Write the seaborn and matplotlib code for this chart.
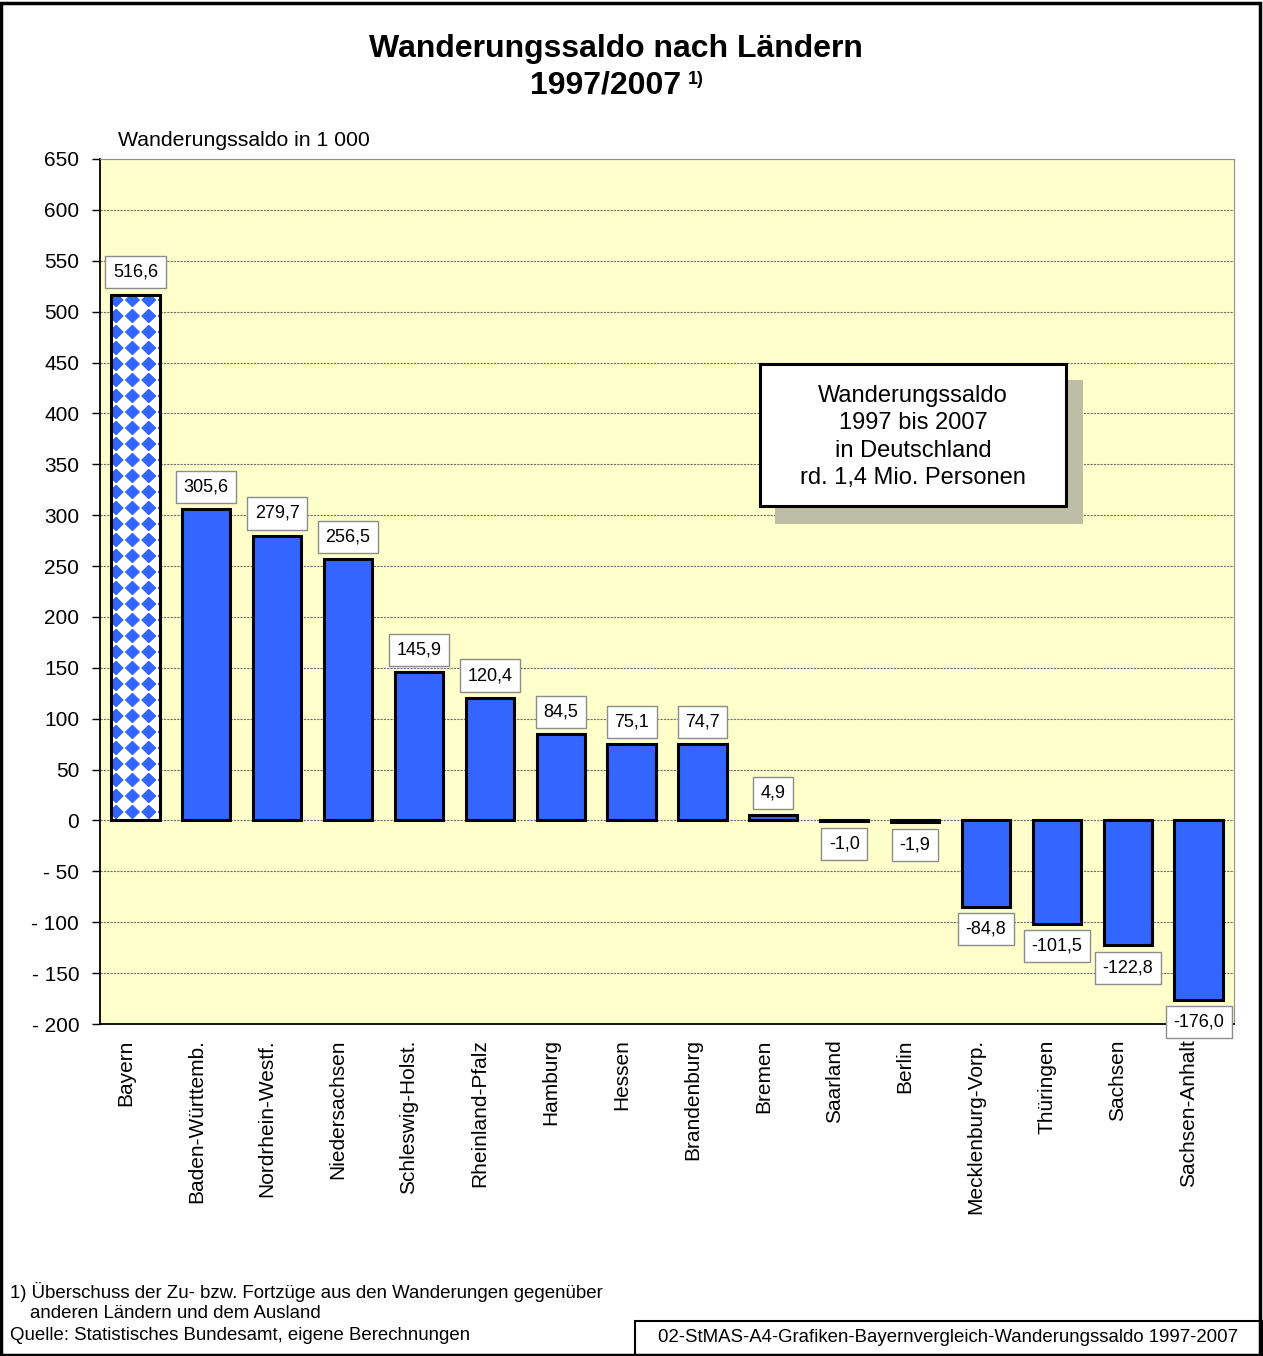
import matplotlib
matplotlib.use("Agg")
import matplotlib.pyplot as plt
import matplotlib.transforms as mtransforms
import numpy as np
import pandas as pd
import seaborn as sns
from matplotlib.patches import Rectangle

# Daten (Wanderungssaldo 1997/2007 in 1 000)
laender = ["Bayern", "Baden-Württemb.", "Nordrhein-Westf.", "Niedersachsen",
           "Schleswig-Holst.", "Rheinland-Pfalz", "Hamburg", "Hessen",
           "Brandenburg", "Bremen", "Saarland", "Berlin", "Mecklenburg-Vorp.",
           "Thüringen", "Sachsen", "Sachsen-Anhalt"]
saldo = [516.6, 305.6, 279.7, 256.5, 145.9, 120.4, 84.5, 75.1, 74.7, 4.9,
         -1.0, -1.9, -84.8, -101.5, -122.8, -176.0]
y_ticks = [-200, -150, -100, -50, 0, 50, 100, 150, 200, 250, 300, 350, 400,
           450, 500, 550, 600, 650]
y_labels = ["- 200", "- 150", "- 100", "- 50", "0", "50", "100", "150", "200",
            "250", "300", "350", "400", "450", "500", "550", "600", "650"]

df = pd.DataFrame({"Land": laender, "Saldo": saldo})

sns.set_style("white")
plt.rcParams["font.family"] = ["Liberation Sans", "DejaVu Sans"]
plt.rcParams["text.color"] = "black"
plt.rcParams["xtick.color"] = "black"
plt.rcParams["ytick.color"] = "black"
plt.rcParams["xtick.labelcolor"] = "black"
plt.rcParams["ytick.labelcolor"] = "black"

blau = "#3366FF"

fig = plt.figure(figsize=(12.63, 13.56), dpi=100)
ax = fig.add_axes([100 / 1263, 1 - 1024 / 1356, 1134 / 1263, 865 / 1356])
ax.set_facecolor("#FFFFCC")

sns.barplot(data=df, x="Land", y="Saldo", color=blau, saturation=1,
            width=0.68, edgecolor="black", linewidth=2.2, ax=ax, zorder=2)

ax.set_xlim(-0.5, len(laender) - 0.5)
ax.set_ylim(-200, 650)
ax.set_yticks(y_ticks)
ax.set_yticklabels(y_labels, fontsize=15)
ax.set_xticks(range(len(laender)))
ax.set_xticklabels(laender, rotation=90, fontsize=15, va="top")
ax.tick_params(axis="x", length=0, pad=11)
ax.tick_params(axis="y", length=6, width=1, color="black", pad=9, left=True)
ax.set_xlabel("")
ax.set_ylabel("")

# Kategorienbeschriftung etwas nach links versetzt
versatz = mtransforms.ScaledTranslation(-0.10, 0, fig.dpi_scale_trans)
for lab in ax.get_xticklabels():
    lab.set_transform(lab.get_transform() + versatz)

# Gitterlinien
ax.set_axisbelow(True)
ax.yaxis.grid(True, color="#707070", linestyle=(0, (2, 1)), linewidth=0.8)
for s in ["left", "bottom"]:
    ax.spines[s].set_color("black")
    ax.spines[s].set_linewidth(1.3)
for s in ["top", "right"]:
    ax.spines[s].set_color("#909090")
    ax.spines[s].set_linewidth(0.8)

# Bayern-Balken mit Rautenmuster
p0 = ax.patches[0]
x0, w, h = p0.get_x(), p0.get_width(), p0.get_height()
(px0, py0), (px1, py1) = ax.transData.transform([(x0, 0), (x0 + w, h)])
W, H = int(round(px1 - px0)), int(round(py1 - py0))
X, Y = np.meshgrid(np.arange(W) + 0.5, np.arange(H) + 0.5)
per, r = 16.0, 7.3
dx = np.mod(X + 3, per) - per / 2
dy = np.mod(Y + 2, per) - per / 2
maske = (np.abs(dx) + np.abs(dy)) < r
img = np.ones((H, W, 3))
img[maske] = matplotlib.colors.to_rgb(blau)
p0.set_facecolor("none")
im = ax.imshow(img, extent=[x0, x0 + w, 0, h], origin="upper", aspect="auto",
               interpolation="bilinear", zorder=1.9)
im.set_clip_path(p0)
ax.set_xlim(-0.5, len(laender) - 0.5)
ax.set_ylim(-200, 650)

# Werte-Beschriftungen
for i, v in enumerate(saldo):
    txt = f"{v:.1f}".replace(".", ",")
    off = 10 if v >= 0 else -10
    ax.annotate(txt, xy=(i, v), xytext=(0, off), textcoords="offset points",
                ha="center", va="bottom" if v >= 0 else "top", fontsize=13,
                zorder=5,
                bbox=dict(boxstyle="square,pad=0.42", fc="white", ec="#8C8C8C", lw=1))

# Titel und Beschriftungen
fig.text(616 / 1263, 1 - 49 / 1356, "Wanderungssaldo nach Ländern", ha="center",
         va="center", fontsize=23, fontweight="bold")
fig.text(681 / 1263, 1 - 85 / 1356, "1997/2007", ha="right", va="center",
         fontsize=23, fontweight="bold")
fig.text(688 / 1263, 1 - 80 / 1356, "1)", ha="left", va="center",
         fontsize=13, fontweight="bold")
fig.text(118 / 1263, 1 - 141 / 1356, "Wanderungssaldo in 1 000", ha="left",
         va="center", fontsize=15.3)

# Infokasten mit Schatten
fig.patches.append(Rectangle((775 / 1263, 1 - 524 / 1356), 308 / 1263, 144 / 1356,
                             transform=fig.transFigure, fc="#BEBEA6", ec="none",
                             zorder=3))
fig.patches.append(Rectangle((760 / 1263, 1 - 506 / 1356), 306 / 1263, 142 / 1356,
                             transform=fig.transFigure, fc="white", ec="black",
                             lw=2.2, zorder=4))
fig.text(913 / 1263, 1 - 437 / 1356,
         "Wanderungssaldo\n1997 bis 2007\nin Deutschland\nrd. 1,4 Mio. Personen",
         ha="center", va="center", fontsize=17, linespacing=1.3, zorder=5)

# Fußnoten
fig.text(10 / 1263, 1 - 1292 / 1356,
         "1) Überschuss der Zu- bzw. Fortzüge aus den Wanderungen gegenüber",
         ha="left", va="center", fontsize=13.4)
fig.text(30 / 1263, 1 - 1313 / 1356, "anderen Ländern und dem Ausland",
         ha="left", va="center", fontsize=13.4)
fig.text(10 / 1263, 1 - 1335 / 1356, "Quelle: Statistisches Bundesamt, eigene Berechnungen",
         ha="left", va="center", fontsize=13.4)
fig.patches.append(Rectangle((635 / 1263, 0.0), 627 / 1263, 35 / 1356,
                             transform=fig.transFigure, fc="white", ec="black",
                             lw=1.5, zorder=4))
fig.text(948 / 1263, 1 - 1338 / 1356,
         "02-StMAS-A4-Grafiken-Bayernvergleich-Wanderungssaldo 1997-2007",
         ha="center", va="center", fontsize=13.4, zorder=5)

# Außenrahmen
fig.patches.append(Rectangle((0.001, 0.001), 0.997, 0.997, transform=fig.transFigure,
                             fc="none", ec="black", lw=2.5, zorder=6))

plt.savefig("out.png", dpi=100)
